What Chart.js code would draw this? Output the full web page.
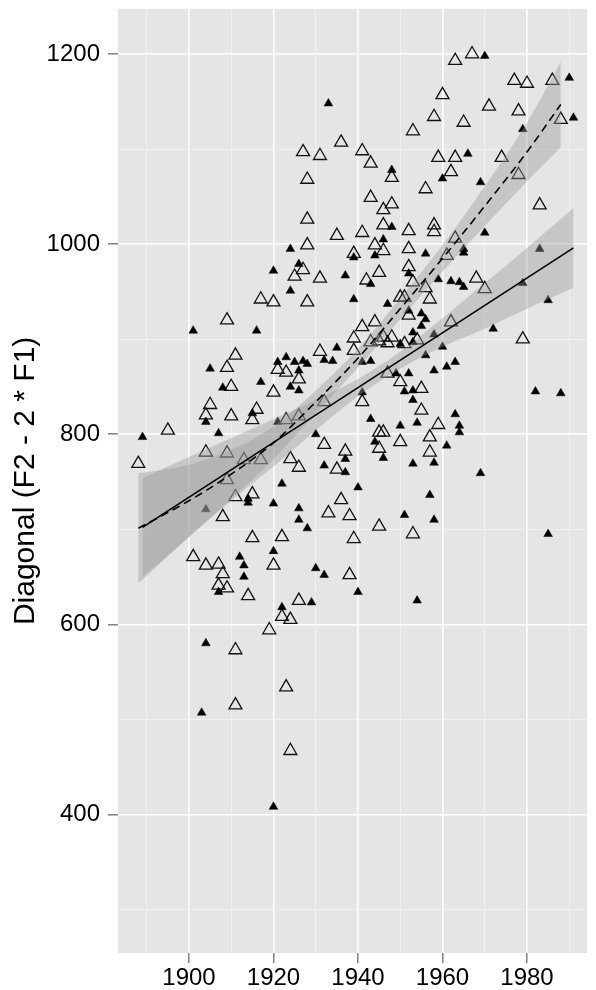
<!DOCTYPE html>
<html>
<head>
<meta charset="utf-8">
<title>Diagonal vs year</title>
<script src="https://cdn.jsdelivr.net/npm/chart.js@4.4.0/dist/chart.umd.min.js"></script>
<style>
    html, body { margin: 0; padding: 0; background: #ffffff; }
    #wrap { width: 596px; height: 990px; }
</style>
</head>
<body>
<div id="wrap"><canvas id="diagonalChart"></canvas></div>
<script>
// Filled triangles: [year, diagonal]
const filledPoints = [
    [1889, 797], [1901, 909], [1916, 909], [1905, 869], [1917, 855], [1908, 849], [1915, 822], [1904, 813],
    [1907, 801], [1922, 748], [1914, 732], [1914, 728], [1920, 727], [1904, 721], [1920, 677], [1912, 671],
    [1913, 662], [1913, 650], [1907, 634], [1904, 580], [1903, 507], [1920, 408], [1929, 623], [1922, 618],
    [1954, 625], [1933, 1148], [1948, 1078], [1948, 1018], [1946, 1005], [1924, 995], [1939, 986], [1944, 988],
    [1926, 979], [1920, 972], [1937, 967], [1943, 958], [1924, 951], [1939, 942], [1947, 937], [1952, 930],
    [1952, 969], [1935, 891], [1921, 876], [1923, 881], [1925, 876], [1928, 874], [1927, 877], [1932, 878],
    [1934, 877], [1926, 867], [1924, 850], [1926, 846], [1941, 844], [1941, 876], [1943, 877], [1949, 864],
    [1952, 864], [1953, 846], [1951, 845], [1953, 836], [1921, 813], [1930, 800], [1937, 774], [1943, 816],
    [1950, 809], [1954, 812], [1944, 792], [1946, 775], [1932, 767], [1937, 760], [1953, 769], [1940, 744],
    [1926, 722], [1926, 710], [1928, 701], [1951, 715], [1930, 659], [1932, 652], [1940, 634], [1970, 1198],
    [1990, 1175], [1991, 1133], [1979, 1121], [1966, 1095], [1960, 1069], [1969, 1065], [1970, 1012], [1965, 995],
    [1965, 991], [1983, 995], [1956, 990], [1959, 963], [1962, 961], [1964, 960], [1965, 955], [1979, 959],
    [1985, 941], [1955, 927], [1956, 921], [1955, 914], [1972, 911], [1953, 907], [1958, 905], [1960, 892],
    [1956, 883], [1950, 895], [1963, 876], [1961, 871], [1958, 867], [1982, 845], [1988, 843], [1963, 821],
    [1964, 809], [1964, 802], [1961, 788], [1958, 770], [1969, 759], [1957, 736], [1958, 710], [1985, 695],
    [1953, 897]
];

// Open triangles: [year, diagonal]
const openPoints = [
    [1917, 942], [1920, 939], [1909, 920], [1911, 883], [1909, 870], [1910, 850], [1920, 844], [1905, 831],
    [1916, 826], [1904, 820], [1910, 819], [1915, 815], [1895, 804], [1904, 781], [1909, 780], [1888, 769],
    [1913, 773], [1917, 773], [1924, 774], [1909, 752], [1911, 734], [1915, 737], [1908, 713], [1915, 691],
    [1922, 692], [1901, 671], [1904, 662], [1907, 663], [1920, 662], [1908, 653], [1907, 641], [1909, 638],
    [1914, 630], [1919, 594], [1911, 573], [1911, 515], [1926, 625], [1922, 608], [1924, 605], [1923, 534],
    [1924, 467], [1953, 1119], [1936, 1107], [1927, 1097], [1931, 1093], [1941, 1098], [1943, 1085], [1948, 1070],
    [1928, 1068], [1943, 1049], [1948, 1042], [1946, 1036], [1928, 1026], [1946, 1020], [1952, 1014], [1935, 1009],
    [1941, 1012], [1944, 999], [1946, 993], [1952, 995], [1928, 999], [1939, 990], [1927, 973], [1925, 966],
    [1931, 964], [1945, 970], [1942, 962], [1952, 976], [1953, 960], [1928, 939], [1950, 944], [1951, 944],
    [1952, 925], [1941, 913], [1939, 901], [1931, 887], [1939, 888], [1943, 897], [1945, 898], [1947, 896],
    [1921, 868], [1923, 865], [1926, 858], [1941, 834], [1932, 834], [1947, 864], [1950, 855], [1955, 848],
    [1955, 825], [1923, 815], [1926, 819], [1932, 789], [1937, 782], [1945, 802], [1946, 802], [1950, 792],
    [1945, 785], [1926, 765], [1935, 763], [1936, 731], [1933, 717], [1938, 714], [1945, 703], [1953, 695],
    [1939, 690], [1938, 652], [1956, 1058], [1958, 1020], [1958, 1013], [1963, 1006], [1961, 988], [1968, 964],
    [1970, 953], [1956, 954], [1957, 942], [1962, 918], [1944, 918], [1948, 902], [1946, 902], [1951, 895],
    [1954, 899], [1967, 1200], [1963, 1193], [1977, 1172], [1980, 1169], [1986, 1172], [1960, 1157], [1971, 1145],
    [1978, 1140], [1958, 1134], [1965, 1128], [1988, 1131], [1959, 1091], [1963, 1091], [1974, 1091], [1962, 1076],
    [1978, 1073], [1983, 1041], [1979, 900], [1959, 810], [1957, 797], [1957, 781]
];

// Solid (straight) fit line and its band
const solidFitYears = [1889, 1991];
const solidFitValues = [702, 996];
const solidBandYears = [1889, 1900, 1910, 1920, 1930, 1940, 1950, 1960, 1970, 1980, 1991];
const solidBandLow = [650, 692, 730, 766, 804, 840, 869, 892, 911, 932, 954];
const solidBandHigh = [754, 776, 796, 816, 836, 858, 887, 922, 959, 996, 1038];

// Dashed (curved) fit line and its band
const dashedFitYears = [1888, 1900, 1910, 1920, 1930, 1940, 1950, 1960, 1970, 1980, 1988];
const dashedFitValues = [701, 730, 758, 791, 834, 880, 932, 985, 1040, 1097, 1147];
const dashedBandLow = [643, 692, 732, 774, 822, 870, 921, 971, 1019, 1066, 1102];
const dashedBandHigh = [759, 768, 784, 808, 846, 890, 943, 999, 1061, 1128, 1192];

// Axis ticks
const xGridYears = [1890, 1900, 1910, 1920, 1930, 1940, 1950, 1960, 1970, 1980, 1990];
const xLabelYears = [1900, 1920, 1940, 1960, 1980];
const yGridValues = [300, 400, 500, 600, 700, 800, 900, 1000, 1100, 1200];
const yLabelValues = [400, 600, 800, 1000, 1200];

const FONT = "'Liberation Sans', Arial, Helvetica, sans-serif";
const BAND_FILL = 'rgba(153, 153, 153, 0.4)';

function toXY(xs, ys) {
    return xs.map((x, i) => ({ x: x, y: ys[i] }));
}

function pairsToXY(pairs) {
    return pairs.map(p => ({ x: p[0], y: p[1] }));
}

// grey panel behind the grid
const panelBackground = {
    id: 'panelBackground',
    beforeDraw(chart) {
        const { ctx, chartArea } = chart;
        ctx.save();
        ctx.fillStyle = '#e5e5e5';
        ctx.fillRect(chartArea.left, chartArea.top, chartArea.right - chartArea.left, chartArea.bottom - chartArea.top);
        ctx.restore();
    }
};

function gridFor(labelValues) {
    const isMajor = c => c.tick && labelValues.includes(c.tick.value);
    return {
        color: c => isMajor(c) ? '#ffffff' : '#f2f2f2',
        lineWidth: c => isMajor(c) ? 1.6 : 0.8,
        tickColor: c => isMajor(c) ? '#808080' : 'rgba(0,0,0,0)',
        tickLength: 10,
        tickWidth: 1.5
    };
}

const ctx = document.getElementById('diagonalChart').getContext('2d');

new Chart(ctx, {
    type: 'scatter',
    data: {
        datasets: [
            {
                type: 'line',
                label: 'Linear fit',
                data: toXY(solidFitYears, solidFitValues),
                borderColor: '#000000',
                borderWidth: 1.6,
                pointRadius: 0,
                fill: false,
                order: 0
            },
            {
                type: 'line',
                label: 'Curved fit',
                data: toXY(dashedFitYears, dashedFitValues),
                borderColor: '#000000',
                borderWidth: 1.6,
                borderDash: [8, 5],
                pointRadius: 0,
                cubicInterpolationMode: 'monotone',
                fill: false,
                order: 0
            },
            {
                type: 'line',
                label: 'Linear band low',
                data: toXY(solidBandYears, solidBandLow),
                borderColor: 'rgba(0,0,0,0)',
                borderWidth: 0,
                pointRadius: 0,
                cubicInterpolationMode: 'monotone',
                fill: false,
                order: 1
            },
            {
                type: 'line',
                label: 'Linear band high',
                data: toXY(solidBandYears, solidBandHigh),
                borderColor: 'rgba(0,0,0,0)',
                borderWidth: 0,
                pointRadius: 0,
                cubicInterpolationMode: 'monotone',
                backgroundColor: BAND_FILL,
                fill: '-1',
                order: 1
            },
            {
                type: 'line',
                label: 'Curved band low',
                data: toXY(dashedFitYears, dashedBandLow),
                borderColor: 'rgba(0,0,0,0)',
                borderWidth: 0,
                pointRadius: 0,
                cubicInterpolationMode: 'monotone',
                fill: false,
                order: 1
            },
            {
                type: 'line',
                label: 'Curved band high',
                data: toXY(dashedFitYears, dashedBandHigh),
                borderColor: 'rgba(0,0,0,0)',
                borderWidth: 0,
                pointRadius: 0,
                cubicInterpolationMode: 'monotone',
                backgroundColor: BAND_FILL,
                fill: '-1',
                order: 1
            },
            {
                label: 'Filled',
                data: pairsToXY(filledPoints),
                pointStyle: 'triangle',
                pointRadius: 5,
                backgroundColor: '#000000',
                borderColor: '#000000',
                borderWidth: 0.5,
                order: 2
            },
            {
                label: 'Open',
                data: pairsToXY(openPoints),
                pointStyle: 'triangle',
                pointRadius: 7.5,
                backgroundColor: 'rgba(0,0,0,0)',
                borderColor: '#111111',
                borderWidth: 1.3,
                order: 2
            }
        ]
    },
    options: {
        responsive: true,
        maintainAspectRatio: false,
        animation: false,
        events: [],
        layout: { padding: { top: 8, right: 0, bottom: 0, left: 0 } },
        plugins: {
            legend: { display: false },
            tooltip: { enabled: false }
        },
        scales: {
            x: {
                type: 'linear',
                min: 1883.2,
                max: 1994.25,
                afterBuildTicks: scale => { scale.ticks = xGridYears.map(v => ({ value: v })); },
                afterFit: scale => {
                    scale.height = 37;
                    scale.paddingLeft = 0;
                    scale.paddingRight = 0;
                },
                grid: gridFor(xLabelYears),
                border: { display: false },
                ticks: {
                    autoSkip: false,
                    maxRotation: 0,
                    padding: 1,
                    color: '#000000',
                    font: { family: FONT, size: 24 },
                    callback: v => xLabelYears.includes(v) ? String(v) : ''
                }
            },
            y: {
                type: 'linear',
                min: 254.2,
                max: 1247.6,
                afterBuildTicks: scale => { scale.ticks = yGridValues.map(v => ({ value: v })); },
                afterFit: scale => {
                    scale.width = 118;
                    scale.paddingTop = 0;
                    scale.paddingBottom = 0;
                },
                grid: gridFor(yLabelValues),
                border: { display: false },
                title: {
                    display: true,
                    text: 'Diagonal (F2 - 2 * F1)',
                    color: '#000000',
                    font: { family: FONT, size: 30 },
                    padding: { top: 8, bottom: 0 }
                },
                ticks: {
                    autoSkip: false,
                    padding: 8,
                    color: '#000000',
                    font: { family: FONT, size: 24 },
                    callback: v => yLabelValues.includes(v) ? String(v) : ''
                }
            }
        }
    },
    plugins: [panelBackground]
});
</script>
</body>
</html>
